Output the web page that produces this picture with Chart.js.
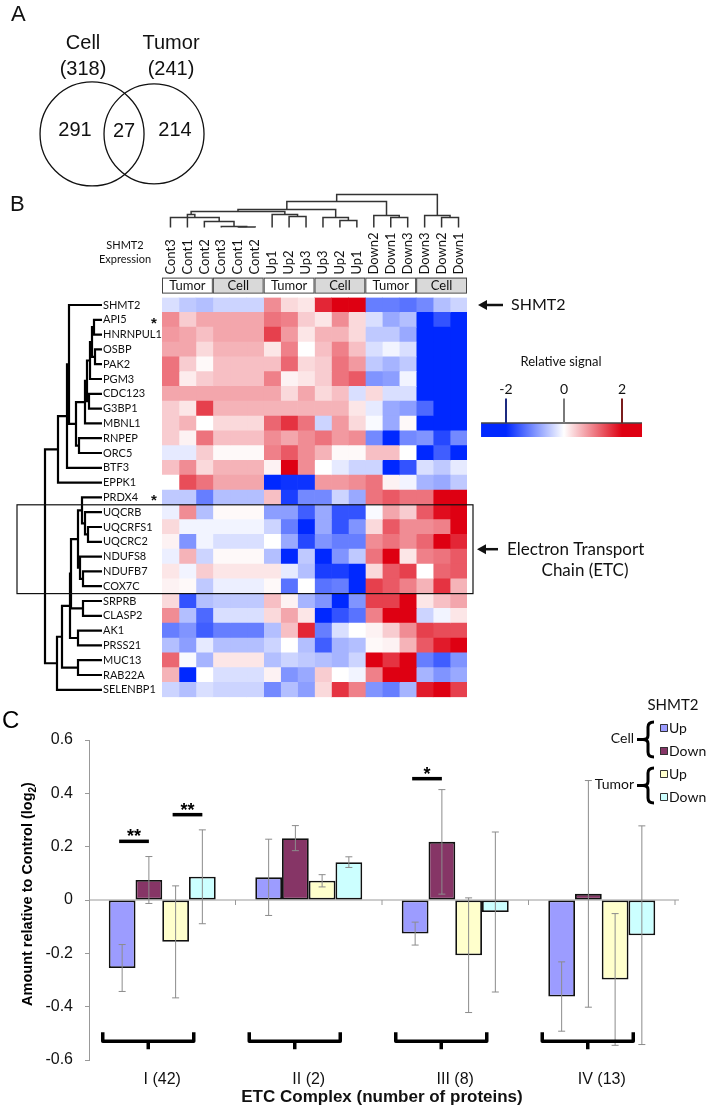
<!DOCTYPE html>
<html>
<head>
<meta charset="utf-8">
<script src="https://cdn.jsdelivr.net/npm/chart.js@4.4.1/dist/chart.umd.min.js"></script>
<style>
  html, body { margin: 0; padding: 0; background: #fff; }
  body { width: 708px; height: 1110px; position: relative; overflow: hidden; }
  canvas { position: absolute; left: 0; }
</style>
</head>
<body>
<canvas id="vennChart" width="260" height="200" style="top:0"></canvas>
<canvas id="heatChart" width="708" height="515" style="top:190px"></canvas>
<canvas id="barChart" width="708" height="430" style="top:680px"></canvas>
<script>
// ---- panel A: overlap of proteins ----
const vennSets = ["Cell", "Tumor"];
const vennTotals = [318, 241];
const vennCounts = [291, 27, 214]; // cell only, both, tumor only

// ---- panel B: heatmap ----
const genes = ["SHMT2", "API5", "HNRNPUL1", "OSBP", "PAK2", "PGM3", "CDC123", "G3BP1", "MBNL1",
  "RNPEP", "ORC5", "BTF3", "EPPK1", "PRDX4", "UQCRB", "UQCRFS1", "UQCRC2", "NDUFS8", "NDUFB7",
  "COX7C", "SRPRB", "CLASP2", "AK1", "PRSS21", "MUC13", "RAB22A", "SELENBP1"];
const starredGenes = ["API5", "PRDX4"];
const etcGenes = ["UQCRB", "UQCRFS1", "UQCRC2", "NDUFS8", "NDUFB7", "COX7C"];
const sampleNames = ["Cont3", "Cont1", "Cont2", "Cont3", "Cont1", "Cont2", "Up1", "Up2", "Up3",
  "Up3", "Up2", "Up1", "Down2", "Down1", "Down3", "Down3", "Down2", "Down1"];
const sampleGroups = ["Tumor", "Cell", "Tumor", "Cell", "Tumor", "Cell"];
const legendTicks = [-2, 0, 2];

// relative signal, one row per gene, columns in the order of sampleNames
const heatValues = [
  [-0.3, -0.5, -0.6, -0.4, -0.4, -0.4, 0.9, 0.3, 0.2, 1.7, 2.5, 2.5, -1.2, -1.2, -1.3, -1.1, -0.6, -0.4],
  [0.9, 0.4, 0.7, 0.7, 0.7, 0.7, 1.1, 1.0, 0.4, 0.2, 0.9, 0.3, -0.3, -0.8, -0.6, -2.5, -1.6, -2.5],
  [0.8, 0.7, 0.5, 0.7, 0.7, 0.7, 1.5, 0.8, 0.2, 0.6, 0.6, 0.3, -0.5, -0.5, -0.8, -2.5, -2.5, -2.5],
  [0.7, 0.7, 0.3, 0.6, 0.6, 0.6, 0.2, 1.0, 0.0, 0.5, 1.0, 0.5, -0.3, -0.1, -0.3, -2.5, -2.5, -2.5],
  [1.1, 0.4, 0.05, 0.5, 0.5, 0.5, 0.5, 1.2, 0.3, 0.4, 1.1, 0.8, -0.5, -0.7, -0.5, -2.5, -2.5, -2.5],
  [1.1, 0.15, 0.4, 0.5, 0.5, 0.5, 1.0, 0.1, 0.2, 0.4, 1.1, 1.3, -1.0, -0.9, -0.1, -2.0, -2.0, -2.5],
  [0.7, 0.7, 0.7, 0.7, 0.7, 0.7, 0.7, 0.3, 0.7, 0.3, 0.5, -0.3, 0.3, -0.3, -0.3, -2.5, -2.5, -2.5],
  [0.4, 0.2, 1.5, 0.6, 0.6, 0.6, 0.6, 0.6, 0.6, 0.6, 0.6, 0.2, -0.2, -0.8, -0.9, -1.4, -2.5, -2.5],
  [0.4, 0.6, 0.0, 0.3, 0.3, 0.3, 1.2, 1.6, 1.1, -0.4, 0.8, 0.3, -0.05, -0.8, 0.05, -2.5, -2.2, -2.5],
  [0.4, 0.1, 1.1, 0.5, 0.5, 0.5, 0.9, 0.7, 0.9, 1.1, 0.8, 0.9, -1.1, -2.5, -1.1, -1.0, -1.7, -1.1],
  [-0.2, -0.2, 0.4, 0.05, 0.05, 0.05, 1.0, 1.3, 0.9, 0.6, 0.05, 0.05, 0.5, 0.5, 0.0, -2.5, -1.5, -2.5],
  [0.5, 0.9, 0.3, 0.6, 0.6, 0.6, 0.1, 2.5, 0.9, 0.0, -0.2, -0.4, -0.4, -2.5, -1.6, -0.3, -0.5, -0.2],
  [0.0, 1.4, 1.1, 0.7, 0.7, 0.7, -2.3, -1.9, -1.9, 0.8, 0.8, 0.9, 1.1, 0.1, -0.1, -0.7, -0.8, -0.5],
  [-0.5, -0.5, -1.2, -0.6, -0.6, -0.6, 0.5, -1.8, -1.1, -1.1, -0.4, -0.8, 1.1, 1.3, 1.1, 1.1, 2.5, 2.0],
  [-0.15, 0.9, -0.6, 0.05, 0.05, 0.05, -0.9, -0.9, -1.5, -0.8, -1.6, -1.6, -0.05, 0.7, 0.4, 1.3, 1.9, 2.5],
  [0.3, -0.1, -0.1, -0.1, -0.1, -0.1, -0.4, -1.2, -2.4, -0.8, -1.6, -1.0, 0.3, 1.3, 0.9, 0.9, 1.0, 2.5],
  [0.1, -1.0, -0.1, -0.3, -0.3, -0.3, 0.0, -0.8, -1.7, -1.0, -1.2, -1.2, 0.9, 1.1, 0.9, 1.2, 2.5, 1.7],
  [-0.15, 0.6, -0.4, 0.05, 0.05, 0.05, -0.6, -2.2, -0.5, -2.4, -1.0, -0.5, 1.1, 2.2, 0.2, 1.0, 1.1, 1.3],
  [0.2, -0.1, 0.4, 0.2, 0.2, 0.2, 0.2, -0.2, -0.6, -1.8, -1.8, -2.4, 0.3, 1.3, 1.5, 0.0, 1.2, 1.3],
  [0.1, 0.05, -0.5, -0.15, -0.15, -0.15, 0.05, -1.3, 0.0, -1.3, -1.2, -2.4, 1.5, 1.3, 1.0, 0.6, 1.6, 0.6],
  [0.3, -1.6, -0.6, -0.5, -0.5, -0.5, 0.5, 0.1, -0.7, -1.0, -2.3, -1.0, 1.5, 1.5, 2.5, 0.2, 0.5, 0.7],
  [0.9, -0.6, -1.4, -0.3, -0.3, -0.3, 0.3, 0.7, 0.2, -2.0, -1.6, -1.3, 1.0, 2.5, 2.4, -0.4, -0.1, 0.2],
  [-1.2, -1.0, -1.5, -1.2, -1.2, -1.2, -0.6, 0.5, 1.7, -1.2, -0.3, 0.0, 0.1, 0.4, 0.9, 1.5, 1.4, 1.4],
  [-0.6, -0.9, -0.2, -0.6, -0.6, -0.6, -0.4, 0.0, -0.6, -1.5, -0.7, -0.6, 0.05, 0.1, 0.6, 1.3, 1.8, 2.5],
  [1.2, -0.05, -0.7, 0.2, 0.2, 0.2, -0.6, -0.4, -0.5, -0.6, -0.7, -0.4, 2.5, 1.6, 2.5, -1.2, -1.5, -1.0],
  [0.6, -2.2, 0.0, -0.3, -0.3, -0.3, 0.1, -1.0, -0.8, 0.4, 0.0, -0.1, 1.0, 2.5, 2.5, -0.7, -1.0, -0.8],
  [-0.4, -0.6, -0.3, -0.4, -0.4, -0.4, -1.1, -0.6, -0.9, 0.3, 1.6, 1.0, -1.0, -1.2, -0.7, 1.8, 2.5, 1.5]
];

// clustering trees: [left, right, height]; "#k" points to merge k
const rowTree = [
  ["API5", "HNRNPUL1", 8], ["OSBP", "PAK2", 7], ["#0", "#1", 10], ["#2", "PGM3", 12],
  ["CDC123", "G3BP1", 13], ["#3", "#4", 15], ["#5", "MBNL1", 17], ["RNPEP", "ORC5", 23],
  ["#6", "#7", 26], ["SHMT2", "#8", 33], ["#9", "BTF3", 35], ["#10", "EPPK1", 44],
  ["UQCRFS1", "UQCRC2", 14], ["UQCRB", "#12", 17], ["PRDX4", "#13", 20], ["NDUFB7", "COX7C", 19],
  ["NDUFS8", "#15", 22], ["#14", "#16", 24], ["SRPRB", "CLASP2", 19], ["#17", "#18", 31],
  ["AK1", "PRSS21", 24], ["#19", "#20", 32], ["MUC13", "RAB22A", 24], ["#21", "#22", 40],
  ["#23", "SELENBP1", 45], ["#11", "#24", 57]
];
const colTree = [
  [4, 5, 0.6], [3, "#0", 1], [2, "#1", 6], [0, "#2", 10], [1, "#3", 13],
  [7, 8, 11], [6, "#5", 13], ["#4", "#6", 16], [10, 11, 7], [9, "#8", 10],
  ["#7", "#9", 18], [13, 14, 10], [12, "#11", 12], ["#10", "#12", 26],
  [16, 17, 10], [15, "#14", 12], ["#13", "#15", 33]
];

// ---- panel C: ETC complexes ----
const complexes = ["I (42)", "II (2)", "III (8)", "IV (13)"];
const cellUp = [-0.255, 0.085, -0.126, -0.362];
const cellDown = [0.075, 0.232, 0.218, 0.023];
const tumorUp = [-0.157, 0.072, -0.207, -0.298];
const tumorDown = [0.087, 0.142, -0.045, -0.132];
const cellUpErr = [0.088, 0.143, 0.043, 0.13];
const cellDownErr = [0.088, 0.047, 0.196, 0.425];
const tumorUpErr = [0.21, 0.023, 0.215, 0.247];
const tumorDownErr = [0.176, 0.02, 0.3, 0.41];
const yTickValues = [-0.6, -0.4, -0.2, 0, 0.2, 0.4, 0.6];
const yTickLabels = ["-0.6", "-0.4", "-0.2", "0", "0.2", "0.4", "0.6"];
const sigComplex = [0, 0, 2];
const sigFrom = [0, 2, 0];
const sigTo = [1, 3, 1];
const sigLevel = [0.22, 0.32, 0.455];
const sigText = ["**", "**", "*"];

const SANS = '"Liberation Sans", Arial, sans-serif';
const LATO = 'Lato, "Open Sans", sans-serif';
Chart.defaults.font.family = SANS;
Chart.defaults.color = "#111";

function heatColor(v) {
  const t = Math.min(Math.abs(v) / 2, 1);
  const end = v >= 0 ? [222, 0, 18] : [0, 40, 255];
  const c = end.map(e => Math.round(255 + (e - 255) * t));
  return "rgb(" + c.join(",") + ")";
}

function drawTree(ctx, tree, leafPos, toXY, color, width) {
  const nodes = [];
  const get = ref => (typeof ref === "string" && ref[0] === "#")
    ? nodes[+ref.slice(1)] : { pos: leafPos(ref), h: 0 };
  ctx.strokeStyle = color;
  ctx.lineWidth = width;
  ctx.lineJoin = "miter";
  tree.forEach(([l, r, h]) => {
    const A = get(l), B = get(r);
    ctx.beginPath();
    ctx.moveTo(...toXY(A.pos, A.h));
    ctx.lineTo(...toXY(A.pos, h));
    ctx.lineTo(...toXY(B.pos, h));
    ctx.lineTo(...toXY(B.pos, B.h));
    ctx.stroke();
    nodes.push({ pos: (A.pos + B.pos) / 2, h: h });
  });
}

function leftArrow(ctx, tipX, tailX, y) {
  ctx.lineWidth = 2.5;
  ctx.beginPath();
  ctx.moveTo(tailX, y);
  ctx.lineTo(tipX + 6, y);
  ctx.stroke();
  ctx.beginPath();
  ctx.moveTo(tipX, y);
  ctx.lineTo(tipX + 9, y - 5);
  ctx.lineTo(tipX + 9, y + 5);
  ctx.closePath();
  ctx.fill();
}

const noHover = { legend: { display: false }, tooltip: { enabled: false } };

// ================= A: Venn =================
const vennText = {
  id: "vennText",
  afterDraw(chart) {
    const { ctx, scales: { x, y } } = chart;
    const c0 = x.getPixelForValue(-1), c1 = x.getPixelForValue(1), cy = y.getPixelForValue(0);
    ctx.save();
    ctx.fillStyle = "#111";
    ctx.font = "22px " + SANS;
    ctx.textBaseline = "alphabetic";
    ctx.fillText("A", 11, 21);
    ctx.font = "20px " + SANS;
    ctx.textAlign = "center";
    ctx.textBaseline = "middle";
    const lx = [c0 - 9, c1 + 17];
    vennSets.forEach((s, i) => {
      ctx.fillText(s, lx[i], 43);
      ctx.fillText("(" + vennTotals[i] + ")", lx[i], 69);
    });
    ctx.fillText(vennCounts[0], c0 - 17, cy - 3);
    ctx.fillText(vennCounts[1], (c0 + c1) / 2 + 1, cy - 2);
    ctx.fillText(vennCounts[2], c1 + 21, cy - 3);
    ctx.restore();
  }
};

new Chart(document.getElementById("vennChart"), {
  type: "scatter",
  data: {
    datasets: [{
      data: vennSets.map((s, i) => ({ x: i * 2 - 1, y: 0 })),
      pointRadius: [52, 50],
      pointBorderColor: "#111",
      pointBorderWidth: 1.3,
      pointBackgroundColor: "rgba(0,0,0,0)",
      clip: false
    }]
  },
  options: {
    responsive: false,
    animation: false,
    events: [],
    layout: { autoPadding: false, padding: 0 },
    plugins: noHover,
    scales: {
      x: { display: false, min: -3.97, max: 4.42 },
      y: { display: false, min: -2.13, max: 4.32 }
    }
  },
  plugins: [vennText]
});

// ================= B: heatmap =================
const heatDecor = {
  id: "heatDecor",
  afterDraw(chart) {
    const { ctx, chartArea: a, scales: { x, y } } = chart;
    const band = (a.bottom - a.top) / genes.length;
    const colX = p => x.getPixelForValue(p + 0.5);
    const rowY = p => y.getPixelForValue(p);
    ctx.save();
    ctx.fillStyle = "#111";

    ctx.font = "22px " + SANS;
    ctx.fillText("B", 10, 21);

    // dendrograms
    const base = a.top - 70;
    drawTree(ctx, colTree, ref => ref, (p, h) => [colX(p), base - h], "#333", 1.5);
    const leafEnd = y.left - 1;
    drawTree(ctx, rowTree, ref => genes.indexOf(ref), (p, h) => [leafEnd - h, rowY(p)], "#000", 2.2);

    // sample labels
    ctx.font = "13px " + LATO;
    ctx.textAlign = "left";
    ctx.textBaseline = "middle";
    sampleNames.forEach((name, j) => {
      ctx.save();
      ctx.translate(colX(j), a.top - 23);
      ctx.rotate(-Math.PI / 2);
      ctx.fillText(name, 0, 0);
      ctx.restore();
    });

    // group header boxes
    const hTop = a.top - 20, hH = 15;
    ctx.textAlign = "center";
    sampleGroups.forEach((g, k) => {
      const x0 = x.getPixelForValue(3 * k), x1 = x.getPixelForValue(3 * k + 3);
      ctx.fillStyle = g === "Cell" ? "#d9d9d9" : "#fff";
      ctx.fillRect(x0, hTop, x1 - x0, hH);
      ctx.strokeStyle = "#444";
      ctx.lineWidth = 1;
      ctx.strokeRect(x0 + 0.5, hTop + 0.5, x1 - x0 - 1, hH);
      ctx.fillStyle = "#111";
      ctx.fillText(g, (x0 + x1) / 2, hTop + hH / 2 + 1);
    });

    ctx.font = "11px " + LATO;
    ctx.fillText("SHMT2", y.left + 22, a.top - 52);
    ctx.fillText("Expression", y.left + 22, a.top - 38);

    // stars
    ctx.font = "bold 15px " + SANS;
    ctx.textBaseline = "alphabetic";
    starredGenes.forEach(g => ctx.fillText("*", a.left - 8, rowY(genes.indexOf(g)) + 8));

    // ETC box
    const eTop = rowY(genes.indexOf(etcGenes[0])) - band / 2;
    const eBot = rowY(genes.indexOf(etcGenes[etcGenes.length - 1])) + band / 2;
    ctx.strokeStyle = "#111";
    ctx.lineWidth = 1.2;
    ctx.strokeRect(17, eTop, a.right + 6 - 17, eBot - eTop);

    // arrows and notes
    ctx.fillStyle = "#111";
    ctx.strokeStyle = "#111";
    leftArrow(ctx, a.right + 11, a.right + 36, rowY(0));
    leftArrow(ctx, a.right + 10, a.right + 31, (eTop + eBot) / 2);
    ctx.textAlign = "left";
    ctx.textBaseline = "middle";
    ctx.font = "16px " + LATO;
    ctx.fillText("SHMT2", a.right + 44, rowY(0));
    ctx.font = "17px " + LATO;
    ctx.fillText("Electron Transport", a.right + 40, (eTop + eBot) / 2);
    ctx.textAlign = "center";
    ctx.fillText("Chain (ETC)", a.right + 118, (eTop + eBot) / 2 + 21);

    // colour legend
    const lg = v => a.right + 97 + v * 29;
    const vLo = -2.86, vHi = 2.69;
    const bTop = a.top + 125.4, bH = 14;
    const grad = ctx.createLinearGradient(lg(vLo), 0, lg(vHi), 0);
    [vLo, -2, -1.5, -1, -0.5, 0, 0.5, 1, 1.5, 2, vHi].forEach(v =>
      grad.addColorStop((v - vLo) / (vHi - vLo), heatColor(v)));
    ctx.fillStyle = grad;
    ctx.fillRect(lg(vLo), bTop, lg(vHi) - lg(vLo), bH);
    ctx.strokeStyle = "#444";
    ctx.lineWidth = 1.5;
    ctx.beginPath();
    ctx.moveTo(lg(vLo), bTop);
    ctx.lineTo(lg(vHi), bTop);
    ctx.stroke();
    const tickColors = ["#1c2a80", "#7a7a7a", "#7a1c1c"];
    ctx.fillStyle = "#111";
    ctx.font = "14px " + LATO;
    legendTicks.forEach((t, i) => {
      ctx.strokeStyle = tickColors[i];
      ctx.lineWidth = 2;
      ctx.beginPath();
      ctx.moveTo(lg(t), a.top + 101);
      ctx.lineTo(lg(t), bTop);
      ctx.stroke();
      ctx.fillText(String(t), lg(t), a.top + 92);
    });
    ctx.font = "13px " + LATO;
    ctx.fillText("Relative signal", lg(0) - 3, a.top + 64);
    ctx.restore();
  }
};

new Chart(document.getElementById("heatChart"), {
  type: "bar",
  data: {
    labels: genes,
    datasets: sampleNames.map((name, j) => ({
      label: sampleGroups[Math.floor(j / 3)] + " " + name,
      data: genes.map(() => 1),
      backgroundColor: heatValues.map(row => heatColor(row[j])),
      borderWidth: 0,
      barPercentage: 1,
      categoryPercentage: 1
    }))
  },
  options: {
    indexAxis: "y",
    responsive: false,
    animation: false,
    events: [],
    layout: { padding: { left: 103, right: 241, top: 107.6, bottom: 7.8 } },
    plugins: noHover,
    scales: {
      x: { stacked: true, min: 0, max: sampleNames.length, display: false },
      y: {
        stacked: true,
        grid: { display: false, drawTicks: false },
        border: { display: false },
        afterFit: s => { s.width = 59; },
        ticks: { autoSkip: false, crossAlign: "far", padding: 0, color: "#111", font: { family: LATO, size: 11 } }
      }
    }
  },
  plugins: [heatDecor]
});

// ================= C: bar chart =================
const barColors = ["#9c9cff", "#863566", "#ffffcc", "#ccffff"];
const seriesValues = [cellUp, cellDown, tumorUp, tumorDown];
const seriesErrors = [cellUpErr, cellDownErr, tumorUpErr, tumorDownErr];
const seriesNames = ["Cell Up", "Cell Down", "Tumor Up", "Tumor Down"];

function brace(ctx, x, yTop, yBot) {
  const ym = (yTop + yBot) / 2;
  ctx.beginPath();
  ctx.moveTo(x + 6, yTop);
  ctx.quadraticCurveTo(x, yTop, x, yTop + 5);
  ctx.lineTo(x, ym - 4);
  ctx.quadraticCurveTo(x, ym, x - 5, ym);
  ctx.quadraticCurveTo(x, ym, x, ym + 4);
  ctx.lineTo(x, yBot - 5);
  ctx.quadraticCurveTo(x, yBot, x + 6, yBot);
  ctx.stroke();
  ctx.beginPath();
  ctx.moveTo(x - 5, ym);
  ctx.lineTo(x - 11, ym);
  ctx.stroke();
}

const barDecor = {
  id: "barDecor",
  beforeDatasetsDraw(chart) {
    const { ctx, chartArea: a, scales: { y } } = chart;
    const y0 = y.getPixelForValue(0);
    const w = (a.right - a.left) / complexes.length;
    ctx.save();
    ctx.strokeStyle = "#9a9a9a";
    ctx.lineWidth = 1;
    ctx.beginPath();
    ctx.moveTo(a.left, y0);
    ctx.lineTo(a.right + 4, y0);
    for (let k = 1; k <= complexes.length; k++) {
      ctx.moveTo(a.left + k * w, y0);
      ctx.lineTo(a.left + k * w, y0 + 5);
    }
    ctx.stroke();
    ctx.restore();
  },
  afterDatasetsDraw(chart) {
    const { ctx, chartArea: a, scales: { x, y } } = chart;
    ctx.save();

    // error bars
    ctx.strokeStyle = "#8c8c8c";
    ctx.lineWidth = 1;
    seriesErrors.forEach((errs, i) => {
      chart.getDatasetMeta(i).data.forEach((bar, j) => {
        const v = seriesValues[i][j], e = errs[j];
        const yt = y.getPixelForValue(v + e), yb = y.getPixelForValue(v - e);
        ctx.beginPath();
        ctx.moveTo(bar.x, yt); ctx.lineTo(bar.x, yb);
        ctx.moveTo(bar.x - 3.5, yt); ctx.lineTo(bar.x + 3.5, yt);
        ctx.moveTo(bar.x - 3.5, yb); ctx.lineTo(bar.x + 3.5, yb);
        ctx.stroke();
      });
    });

    // significance marks
    ctx.strokeStyle = "#000";
    ctx.fillStyle = "#000";
    ctx.lineWidth = 3.5;
    ctx.font = "bold 18px " + SANS;
    ctx.textAlign = "center";
    ctx.textBaseline = "alphabetic";
    sigComplex.forEach((c, k) => {
      const xa = chart.getDatasetMeta(sigFrom[k]).data[c].x - 3;
      const xb = chart.getDatasetMeta(sigTo[k]).data[c].x;
      const yl = y.getPixelForValue(sigLevel[k]);
      ctx.beginPath();
      ctx.moveTo(xa, yl);
      ctx.lineTo(xb, yl);
      ctx.stroke();
      ctx.fillText(sigText[k], (xa + xb) / 2, yl + 1);
    });

    // group brackets
    ctx.lineJoin = "round";
    const yb = y.getPixelForValue(-0.53);
    complexes.forEach((c, j) => {
      const cx = x.getPixelForValue(j) - 14, hw = 45.5;
      ctx.beginPath();
      ctx.moveTo(cx - hw, yb - 9);
      ctx.lineTo(cx - hw, yb);
      ctx.lineTo(cx + hw, yb);
      ctx.lineTo(cx + hw, yb - 9);
      ctx.moveTo(cx, yb);
      ctx.lineTo(cx, yb + 8);
      ctx.stroke();
    });

    // panel letter
    ctx.textAlign = "left";
    ctx.font = "24px " + SANS;
    ctx.fillText("C", 2, 48);

    // y title with subscript
    ctx.save();
    ctx.translate(28, (a.top + a.bottom) / 2 - 6);
    ctx.rotate(-Math.PI / 2);
    const main = "Amount relative to Control (log", sub = "2", tail = ")";
    ctx.font = "bold 14.5px " + SANS;
    const w1 = ctx.measureText(main).width, w3 = ctx.measureText(tail).width;
    ctx.font = "bold 10px " + SANS;
    const w2 = ctx.measureText(sub).width;
    const tx = -(w1 + w2 + w3) / 2;
    ctx.textBaseline = "middle";
    ctx.font = "bold 14.5px " + SANS;
    ctx.fillText(main, tx, 0);
    ctx.font = "bold 10px " + SANS;
    ctx.fillText(sub, tx + w1, 5);
    ctx.font = "bold 14.5px " + SANS;
    ctx.fillText(tail, tx + w1 + w2, 0);
    ctx.restore();

    // legend
    ctx.font = "15px " + LATO;
    ctx.textBaseline = "middle";
    ctx.textAlign = "center";
    ctx.fillStyle = "#111";
    ctx.fillText("SHMT2", 673, 25);
    ctx.font = "14px " + LATO;
    const groupRows = [[48, 71], [94, 117]];
    ["Cell", "Tumor"].forEach((g, gi) => {
      const [r0, r1] = groupRows[gi];
      ctx.strokeStyle = "#000";
      ctx.lineWidth = 3;
      brace(ctx, 648, r0 - 6, r1 + 6);
      ctx.fillStyle = "#111";
      ctx.textAlign = "right";
      ctx.fillText(g, 634, (r0 + r1) / 2 - 1);
      [r0, r1].forEach((ry, k) => {
        const idx = gi * 2 + k;
        ctx.fillStyle = barColors[idx];
        ctx.fillRect(660, ry - 4, 8, 8);
        ctx.strokeStyle = "#333";
        ctx.lineWidth = 1;
        ctx.strokeRect(660.5, ry - 3.5, 7, 7);
        ctx.fillStyle = "#111";
        ctx.textAlign = "left";
        ctx.fillText(seriesNames[idx].split(" ")[1], 669, ry);
      });
    });
    ctx.restore();
  }
};

new Chart(document.getElementById("barChart"), {
  type: "bar",
  data: {
    labels: complexes,
    datasets: seriesValues.map((vals, i) => ({
      label: seriesNames[i],
      data: vals,
      backgroundColor: barColors[i],
      borderColor: "#111",
      borderWidth: 1.8,
      borderSkipped: false,
      barPercentage: 1,
      categoryPercentage: 0.73
    }))
  },
  options: {
    responsive: false,
    animation: false,
    events: [],
    layout: { padding: { left: 0, right: 33, top: 60, bottom: 0 } },
    plugins: noHover,
    scales: {
      x: {
        grid: { display: false, drawTicks: false },
        border: { display: false },
        afterFit: s => { s.height = 50; },
        ticks: { padding: 10, color: "#111", font: { size: 16 } },
        title: {
          display: true,
          text: "ETC Complex (number of proteins)",
          color: "#111",
          font: { size: 17, weight: "bold" },
          padding: { top: 0, bottom: 2 }
        }
      },
      y: {
        min: -0.6,
        max: 0.6,
        afterFit: s => { s.width = 89; },
        afterBuildTicks: s => { s.ticks = yTickValues.map(v => ({ value: v })); },
        grid: { drawOnChartArea: false, tickLength: 4, color: "#999" },
        border: { color: "#999" },
        ticks: { padding: 12, color: "#111", font: { size: 16 }, callback: (v, i) => yTickLabels[i] }
      }
    }
  },
  plugins: [barDecor]
});
</script>
</body>
</html>
